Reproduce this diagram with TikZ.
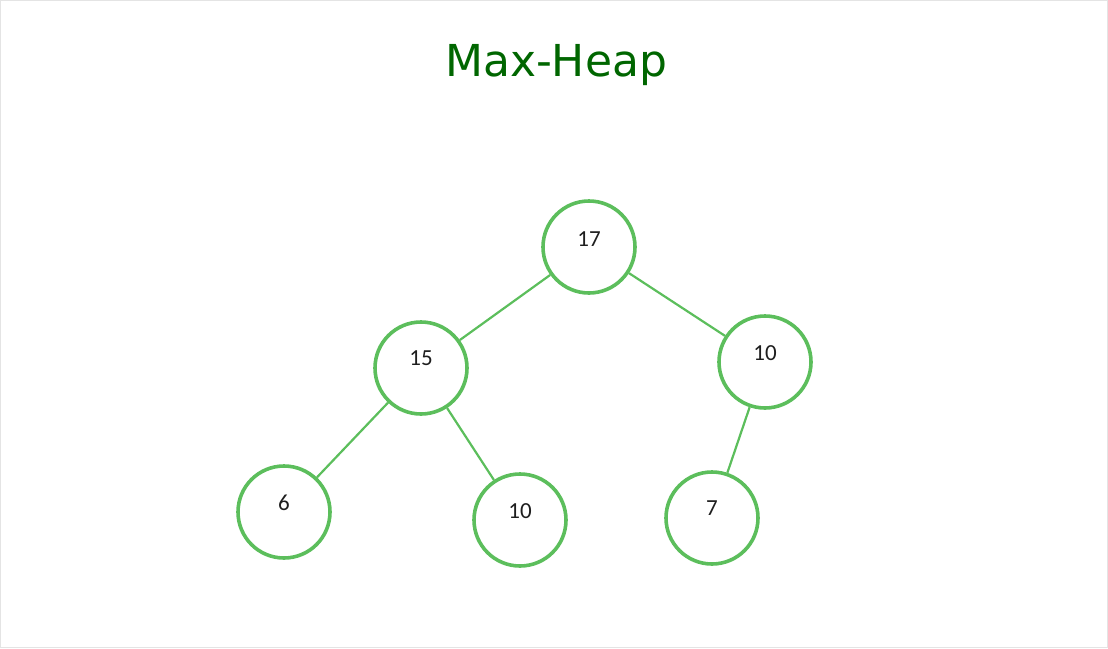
\documentclass[tikz,border=0pt]{standalone}
\usepackage{fontspec}
\setmainfont{Carlito}
\newfontfamily\titlefont{DejaVu Sans}
\definecolor{titlegreen}{RGB}{0,102,0}
\definecolor{nodegreen}{RGB}{92,190,92}
\definecolor{textgray}{RGB}{30,30,30}
\definecolor{framegray}{RGB}{228,228,228}
\begin{document}
\begin{tikzpicture}[x=1pt,y=-1pt,
  heapnode/.style={circle,draw=nodegreen,line width=3.6pt,minimum size=92pt,inner sep=0pt},
  heaplabel/.style={text=textgray,font=\fontsize{23}{26}\selectfont},
  heapedge/.style={draw=nodegreen,line width=2.2pt}]
\useasboundingbox (0,0) rectangle (1108,648);
\draw[framegray,line width=1pt] (0.5,0.5) rectangle (1107.5,647.5);
\node[text=titlegreen,font=\titlefont\fontsize{44}{50}\selectfont] (title) at (556,65) {Max-Heap};
\node[heapnode] (n17) at (589,247) {};
\node[heapnode] (n15) at (421,368) {};
\node[heapnode] (n10a) at (765,362) {};
\node[heapnode] (n6) at (284,512) {};
\node[heapnode] (n10b) at (520,520) {};
\node[heapnode] (n7) at (712,518) {};
\node[heaplabel] (l17) at (589,239) {17};
\node[heaplabel] (l15) at (421,358) {15};
\node[heaplabel] (l10a) at (765,353) {10};
\node[heaplabel] (l6) at (284,503) {6};
\node[heaplabel] (l10b) at (520,511) {10};
\node[heaplabel] (l7) at (712,508) {7};
\draw[heapedge] (n17) -- (n15);
\draw[heapedge] (n17) -- (n10a);
\draw[heapedge] (n15) -- (n6);
\draw[heapedge] (n15) -- (n10b);
\draw[heapedge] (n10a) -- (n7);
\end{tikzpicture}
\end{document}
